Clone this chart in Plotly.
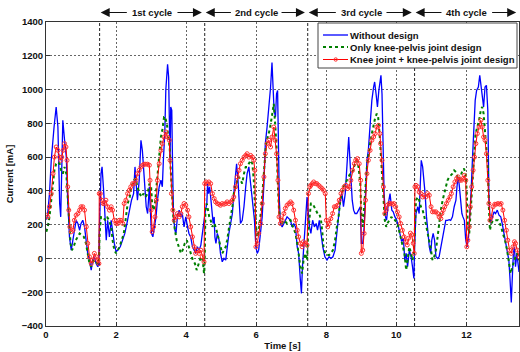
import plotly.graph_objects as go

# Motor current over four gait cycles for three exoskeleton designs
t_without = [0.0, 0.04, 0.1, 0.15, 0.23, 0.27, 0.29, 0.34, 0.39, 0.42, 0.45, 0.48, 0.53, 0.58, 0.62, 0.67,
             0.72, 0.77, 0.81, 0.86, 0.91, 0.96, 1.0, 1.05, 1.1, 1.15, 1.19, 1.24, 1.29, 1.33, 1.38, 1.43,
             1.48, 1.51, 1.52, 1.57, 1.6, 1.65, 1.69, 1.72, 1.76, 1.81, 1.86, 1.9, 1.95, 2.0, 2.05, 2.12,
             2.19, 2.25, 2.31, 2.38, 2.44, 2.5, 2.54, 2.58, 2.61, 2.66, 2.71, 2.75, 2.79, 2.83, 2.86, 2.9,
             2.95, 2.97, 3.01, 3.05, 3.09, 3.14, 3.18, 3.23, 3.28, 3.32, 3.35, 3.39, 3.42, 3.45, 3.47, 3.5,
             3.52, 3.54, 3.56, 3.59, 3.61, 3.64, 3.68, 3.71, 3.75, 3.8, 3.85, 3.89, 3.94, 3.99, 4.04, 4.08,
             4.13, 4.18, 4.23, 4.27, 4.32, 4.37, 4.42, 4.46, 4.51, 4.55, 4.59, 4.61, 4.64, 4.67, 4.7, 4.74,
             4.77, 4.8, 4.82, 4.85, 4.89, 4.94, 4.98, 5.03, 5.08, 5.13, 5.17, 5.22, 5.27, 5.32, 5.36, 5.41,
             5.44, 5.48, 5.52, 5.55, 5.6, 5.65, 5.7, 5.74, 5.79, 5.82, 5.86, 5.89, 5.91, 5.95, 5.99, 6.03,
             6.07, 6.12, 6.17, 6.22, 6.26, 6.31, 6.36, 6.41, 6.45, 6.48, 6.51, 6.55, 6.58, 6.61, 6.63, 6.66,
             6.69, 6.74, 6.79, 6.83, 6.88, 6.98, 7.02, 7.07, 7.12, 7.17, 7.21, 7.26, 7.29, 7.32, 7.35, 7.38,
             7.41, 7.45, 7.48, 7.52, 7.56, 7.61, 7.66, 7.71, 7.75, 7.8, 7.85, 7.9, 7.96, 8.02, 8.08, 8.13,
             8.19, 8.25, 8.3, 8.35, 8.4, 8.45, 8.49, 8.54, 8.59, 8.62, 8.64, 8.67, 8.7, 8.74, 8.78, 8.82,
             8.87, 8.92, 8.97, 9.0, 9.04, 9.08, 9.12, 9.16, 9.2, 9.25, 9.3, 9.35, 9.38, 9.42, 9.46, 9.5,
             9.54, 9.56, 9.59, 9.62, 9.65, 9.69, 9.72, 9.77, 9.82, 9.87, 9.91, 9.96, 10.01, 10.06, 10.1, 10.15,
             10.2, 10.24, 10.28, 10.32, 10.37, 10.42, 10.46, 10.5, 10.52, 10.56, 10.61, 10.65, 10.68, 10.71, 10.75, 10.79,
             10.82, 10.86, 10.9, 10.94, 10.98, 11.01, 11.05, 11.09, 11.13, 11.18, 11.22, 11.27, 11.32, 11.36, 11.41, 11.46,
             11.51, 11.55, 11.6, 11.65, 11.7, 11.73, 11.76, 11.79, 11.83, 11.87, 11.9, 11.94, 11.98, 12.02, 12.06, 12.09,
             12.13, 12.17, 12.21, 12.25, 12.29, 12.34, 12.38, 12.42, 12.45, 12.49, 12.53, 12.57, 12.61, 12.64, 12.67, 12.7,
             12.74, 12.79, 12.83, 12.88, 12.93, 12.98, 13.02, 13.07, 13.12, 13.17, 13.21, 13.24, 13.28, 13.31, 13.34, 13.37,
             13.4, 13.44, 13.48, 13.5]
i_without = [230, 246, 384, 581, 778, 890, 897, 778, 325, 246, 581, 818, 700, 600, 345, 128,
             49, 108, 167, 226, 207, 167, 207, 226, 187, 108, 30, -10, -69, -10, 10, -30,
             -49, -30, 148, 502, 542, 384, 187, 108, 226, 128, 226, 148, 89, 40, 49, 69,
             108, 148, 207, 286, 345, 384, 542, 424, 345, 463, 700, 640, 522, 424, 306, 266,
             424, 325, 148, 128, 187, 246, 345, 424, 463, 424, 581, 739, 1000, 1100, 1150, 1074,
             778, 581, 897, 877, 581, 246, 167, 148, 246, 286, 246, 266, 187, 246, 187, 148,
             128, 69, 49, 30, 69, 49, 79, 148, 207, 286, 325, 443, 384, 424, 364, 246,
             207, 246, 128, 89, 148, 108, 30, -20, 0, -10, 69, 148, 207, 266, 384, 502,
             561, 463, 306, 207, 226, 306, 424, 502, 542, 483, 424, 384, 306, 226, 69, 30,
             49, 148, 246, 443, 680, 778, 877, 1015, 1160, 1054, 877, 838, 975, 995, 581, 345,
             207, 187, 207, 226, 246, 226, 187, 207, 187, 69, 30, -128, -207, -49, 49, 148,
             246, 364, 286, 187, 148, 226, 187, 207, 167, 226, 148, 69, 10, -10, 10, 0,
             10, 49, 148, 246, 345, 384, 306, 384, 522, 620, 719, 600, 483, 345, 286, 266,
             266, 286, 306, 89, 89, 187, 384, 581, 640, 778, 936, 1015, 1045, 975, 897, 995,
             1074, 1084, 975, 620, 384, 246, 226, 325, 384, 286, 276, 246, 226, 187, 150, 100,
             120, -10, 30, -49, 49, 10, -49, -118, 69, 266, 306, 266, 424, 581, 542, 463,
             384, 246, 128, 69, 30, 108, 148, 108, 10, 0, 10, 69, 128, 187, 226, 226,
             230, 226, 246, 306, 345, 424, 483, 443, 345, 266, 246, 226, 108, 69, 128, 226,
             384, 581, 778, 936, 995, 1015, 1084, 1015, 936, 897, 1015, 1025, 877, 384, 246, 207,
             246, 276, 266, 286, 256, 246, 207, 148, 108, 49, -10, -108, -260, -108, 30, 69,
             -49, 30, -49, -80]

t_knee_pelvis = [0.01, 0.05, 0.1, 0.15, 0.2, 0.24, 0.29, 0.34, 0.39, 0.43, 0.48, 0.53, 0.58, 0.62, 0.66, 0.7,
                 0.74, 0.79, 0.85, 0.91, 0.96, 1.02, 1.08, 1.14, 1.19, 1.24, 1.29, 1.34, 1.4, 1.46, 1.51, 1.53,
                 1.57, 1.63, 1.69, 1.74, 1.8, 1.86, 1.9, 1.95, 2.0, 2.05, 2.1, 2.16, 2.22, 2.27, 2.33, 2.39,
                 2.44, 2.5, 2.56, 2.61, 2.67, 2.73, 2.78, 2.84, 2.9, 2.95, 3.0, 3.03, 3.07, 3.11, 3.15, 3.18,
                 3.23, 3.28, 3.32, 3.37, 3.4, 3.45, 3.49, 3.53, 3.56, 3.6, 3.64, 3.68, 3.73, 3.79, 3.85, 3.9,
                 3.96, 4.02, 4.07, 4.13, 4.19, 4.25, 4.3, 4.36, 4.42, 4.47, 4.51, 4.53, 4.55, 4.59, 4.62, 4.66,
                 4.7, 4.75, 4.8, 4.84, 4.89, 4.94, 4.98, 5.03, 5.08, 5.13, 5.17, 5.22, 5.27, 5.32, 5.36, 5.41,
                 5.46, 5.51, 5.55, 5.6, 5.65, 5.7, 5.74, 5.79, 5.84, 5.89, 5.93, 5.97, 6.01, 6.05, 6.09, 6.14,
                 6.19, 6.24, 6.28, 6.33, 6.38, 6.43, 6.46, 6.5, 6.54, 6.58, 6.62, 6.65, 6.69, 6.74, 6.79, 6.88,
                 6.98, 7.05, 7.12, 7.17, 7.21, 7.26, 7.31, 7.35, 7.4, 7.45, 7.48, 7.52, 7.56, 7.61, 7.66, 7.71,
                 7.75, 7.8, 7.85, 7.89, 7.92, 7.97, 8.02, 8.08, 8.13, 8.19, 8.25, 8.3, 8.35, 8.4, 8.45, 8.49,
                 8.54, 8.59, 8.63, 8.68, 8.73, 8.78, 8.82, 8.87, 8.92, 8.97, 9.0, 9.04, 9.08, 9.12, 9.16, 9.2,
                 9.25, 9.3, 9.35, 9.39, 9.44, 9.48, 9.52, 9.55, 9.59, 9.63, 9.67, 9.71, 9.74, 9.8, 9.86, 9.91,
                 9.97, 10.03, 10.08, 10.13, 10.18, 10.23, 10.28, 10.32, 10.37, 10.42, 10.46, 10.5, 10.53, 10.56, 10.61, 10.65,
                 10.7, 10.75, 10.8, 10.84, 10.89, 10.94, 10.99, 11.03, 11.08, 11.13, 11.18, 11.22, 11.27, 11.32, 11.36, 11.41,
                 11.46, 11.51, 11.55, 11.6, 11.65, 11.7, 11.74, 11.79, 11.84, 11.89, 11.93, 11.98, 12.01, 12.04, 12.08, 12.11,
                 12.15, 12.19, 12.23, 12.26, 12.31, 12.36, 12.41, 12.45, 12.49, 12.53, 12.57, 12.61, 12.64, 12.67, 12.71, 12.76,
                 12.81, 12.85, 12.9, 12.95, 12.99, 13.04, 13.1, 13.16, 13.21, 13.26, 13.31, 13.36, 13.4, 13.45, 13.5]
i_knee_pelvis = [158, 187, 246, 345, 443, 522, 561, 571, 561, 522, 502, 542, 502, 345, 187, 89,
                 49, 69, 108, 128, 148, 138, 128, 89, 30, -30, -49, -20, -10, -30, -30, 148,
                 246, 246, 226, 246, 226, 187, 108, 49, 30, 49, 69, 108, 148, 226, 325, 364,
                 424, 463, 473, 424, 384, 364, 384, 364, 384, 443, 424, 325, 286, 325, 424, 522,
                 620, 719, 759, 838, 838, 798, 719, 660, 522, 345, 226, 167, 108, 69, 30, 49,
                 89, 108, 69, 30, -10, -30, -69, -30, 10, -10, -89, -10, 286, 325, 286, 246,
                 226, 187, 207, 187, 148, 108, 69, 30, 49, 69, 108, 187, 246, 306, 384, 424,
                 463, 483, 463, 443, 502, 542, 542, 561, 581, 561, 463, 286, 148, 128, 187, 286,
                 424, 581, 680, 719, 759, 818, 877, 916, 798, 660, 424, 286, 226, 207, 226, 207,
                 226, 187, 148, 89, 30, -49, -89, -10, 30, -10, 148, 266, 325, 325, 306, 286,
                 266, 266, 226, 148, 69, 30, 20, 20, 30, 49, 108, 187, 246, 345, 384, 424,
                 443, 463, 483, 502, 502, 542, 561, 581, 542, 443, 266, 187, 286, 424, 542, 620,
                 680, 739, 798, 828, 857, 838, 739, 640, 522, 364, 226, 187, 207, 226, 246, 226,
                 226, 207, 160, 128, 69, 30, -69, -10, 69, 30, -10, 30, 246, 345, 364, 345,
                 306, 286, 246, 207, 167, 108, 49, -10, 10, 49, 148, 226, 286, 345, 384, 424,
                 463, 483, 492, 502, 522, 512, 483, 463, 492, 522, 532, 502, 384, 187, 148, 246,
                 384, 522, 660, 739, 778, 818, 877, 897, 857, 739, 660, 542, 306, 167, 207, 226,
                 226, 226, 226, 207, 187, 148, 108, 49, -30, -89, -49, -10, 10, 30, -10]

t_knee_full = [0.01, 0.05, 0.1, 0.15, 0.2, 0.24, 0.29, 0.34, 0.39, 0.42, 0.45, 0.49, 0.53, 0.57, 0.6, 0.62,
               0.65, 0.68, 0.72, 0.77, 0.81, 0.86, 0.91, 0.96, 1.0, 1.05, 1.1, 1.15, 1.19, 1.24, 1.29, 1.33,
               1.38, 1.43, 1.48, 1.51, 1.52, 1.55, 1.59, 1.63, 1.67, 1.71, 1.76, 1.81, 1.86, 1.9, 1.95, 2.0,
               2.05, 2.09, 2.14, 2.19, 2.23, 2.28, 2.33, 2.38, 2.42, 2.47, 2.52, 2.57, 2.61, 2.66, 2.71, 2.76,
               2.8, 2.85, 2.9, 2.95, 2.97, 3.0, 3.03, 3.07, 3.11, 3.15, 3.18, 3.23, 3.28, 3.32, 3.37, 3.42,
               3.47, 3.52, 3.54, 3.58, 3.62, 3.66, 3.71, 3.75, 3.8, 3.85, 3.89, 3.94, 3.99, 4.04, 4.08, 4.13,
               4.18, 4.23, 4.27, 4.32, 4.37, 4.42, 4.46, 4.51, 4.53, 4.57, 4.61, 4.65, 4.7, 4.75, 4.8, 4.84,
               4.89, 4.94, 4.98, 5.03, 5.08, 5.13, 5.17, 5.22, 5.27, 5.32, 5.36, 5.41, 5.46, 5.51, 5.55, 5.6,
               5.65, 5.7, 5.74, 5.79, 5.84, 5.89, 5.93, 5.96, 5.99, 6.03, 6.07, 6.12, 6.17, 6.22, 6.26, 6.31,
               6.36, 6.41, 6.45, 6.5, 6.54, 6.58, 6.62, 6.65, 6.69, 6.74, 6.79, 6.83, 6.88, 6.93, 6.98, 7.02,
               7.07, 7.12, 7.17, 7.21, 7.26, 7.31, 7.35, 7.4, 7.45, 7.49, 7.53, 7.56, 7.6, 7.64, 7.69, 7.73,
               7.78, 7.83, 7.88, 7.92, 7.97, 8.0, 8.04, 8.08, 8.13, 8.18, 8.23, 8.27, 8.32, 8.37, 8.42, 8.46,
               8.51, 8.56, 8.61, 8.65, 8.7, 8.75, 8.8, 8.84, 8.89, 8.94, 8.98, 9.0, 9.04, 9.08, 9.12, 9.16,
               9.2, 9.25, 9.3, 9.35, 9.39, 9.44, 9.49, 9.53, 9.55, 9.59, 9.63, 9.67, 9.71, 9.74, 9.79, 9.84,
               9.89, 9.93, 9.98, 10.03, 10.08, 10.12, 10.17, 10.22, 10.27, 10.31, 10.35, 10.4, 10.44, 10.48, 10.51, 10.53,
               10.56, 10.61, 10.65, 10.7, 10.75, 10.8, 10.84, 10.89, 10.94, 10.99, 11.03, 11.08, 11.13, 11.18, 11.22, 11.27,
               11.3, 11.34, 11.38, 11.43, 11.48, 11.53, 11.57, 11.62, 11.67, 11.72, 11.76, 11.81, 11.86, 11.9, 11.94, 11.98,
               12.01, 12.04, 12.08, 12.11, 12.15, 12.19, 12.23, 12.27, 12.31, 12.36, 12.41, 12.45, 12.49, 12.53, 12.57, 12.61,
               12.64, 12.67, 12.71, 12.76, 12.81, 12.85, 12.9, 12.95, 12.99, 13.04, 13.09, 13.14, 13.18, 13.23, 13.28, 13.33,
               13.37, 13.4, 13.45, 13.5]
i_knee_full = [256, 246, 306, 384, 502, 600, 660, 640, 600, 581, 600, 640, 680, 660, 581, 424,
               286, 187, 158, 167, 226, 256, 266, 286, 306, 306, 286, 187, 89, 10, -30, -10,
               30, 10, -10, -30, 384, 384, 345, 325, 325, 345, 306, 286, 306, 286, 226, 207,
               207, 226, 226, 207, 325, 345, 384, 404, 424, 443, 443, 463, 502, 522, 542, 552,
               558, 558, 558, 552, 463, 286, 158, 187, 246, 345, 463, 561, 640, 680, 719, 749,
               719, 700, 581, 384, 286, 226, 246, 266, 246, 266, 306, 325, 315, 286, 246, 187,
               128, 69, 30, 49, 30, 49, 10, -20, 443, 453, 443, 453, 443, 384, 355, 335,
               325, 321, 315, 325, 321, 325, 335, 325, 335, 345, 364, 424, 483, 522, 561, 581,
               600, 610, 620, 600, 610, 600, 581, 522, 69, 89, 148, 207, 325, 483, 620, 680,
               700, 660, 719, 778, 700, 620, 463, 246, 207, 226, 266, 296, 315, 325, 335, 325,
               286, 226, 167, 128, 89, 69, 99, 89, 79, 384, 424, 433, 443, 453, 443, 443,
               433, 424, 414, 404, 384, 226, 187, 207, 236, 266, 306, 306, 315, 345, 384, 404,
               424, 433, 414, 424, 463, 522, 561, 581, 591, 561, 463, 30, 49, 148, 345, 502,
               581, 640, 700, 719, 739, 778, 788, 739, 680, 581, 424, 266, 286, 315, 325, 325,
               321, 325, 306, 276, 246, 207, 167, 128, 99, 80, 120, 150, 140, 90, 30, 424,
               433, 424, 394, 384, 364, 374, 364, 384, 374, 306, 276, 276, 276, 266, 246, 236,
               266, 286, 306, 325, 345, 364, 384, 424, 453, 473, 483, 463, 463, 473, 492, 463,
               69, 108, 187, 306, 424, 522, 600, 680, 739, 778, 818, 778, 719, 700, 620, 463,
               325, 226, 246, 306, 321, 321, 325, 321, 325, 286, 226, 167, 108, 49, 30, 69,
               99, 89, 49, 10]

# Start times of the gait cycles (last entry closes the 4th cycle)
cycle_bounds = [1.53, 4.53, 7.47, 10.52, 13.5]
cycle_labels = ["1st cycle", "2nd cycle", "3rd cycle", "4th cycle"]

series_names = ["Without design", "Only knee-pelvis joint design",
                "Knee joint + knee-pelvis joint design"]

FONT = "Liberation Sans, Arial, sans-serif"
TEXT = "#111111"
W, H = 520, 352
M = dict(l=46, r=1, t=22, b=26)
X_RANGE = [0, 13.5]
PLOT_W = W - M["l"] - M["r"]
PLOT_H = H - M["t"] - M["b"]


def px_to_paper(px, py):
    """Convert page pixel coordinates to paper coordinates."""
    return (px - M["l"]) / PLOT_W, (H - M["b"] - py) / PLOT_H


blue = dict(color="#0000ff", width=1.3)
green = dict(color="#007f00", width=2, dash="dot")
red = dict(color="#ff0000", width=1)
red_marker = dict(symbol="circle-open", size=4, color="#ff3030", line=dict(width=1))

fig = go.Figure()
fig.add_trace(go.Scatter(x=t_without, y=i_without, mode="lines",
                         name=series_names[0], line=blue))
fig.add_trace(go.Scatter(x=t_knee_pelvis, y=i_knee_pelvis, mode="lines",
                         name=series_names[1], line=green))
fig.add_trace(go.Scatter(x=t_knee_full, y=i_knee_full, mode="lines+markers",
                         name=series_names[2], line=red, marker=red_marker))

# Dashed separators between gait cycles
for b in cycle_bounds[:-1]:
    fig.add_shape(type="line", x0=b, x1=b, xref="x", yref="paper", y0=0, y1=1,
                  line=dict(color="#222222", width=1, dash="3px,2px"), layer="below")

# "<-- Nth cycle -->" labels above the plot
px_per_s = PLOT_W / (X_RANGE[1] - X_RANGE[0])
_, arrow_y = px_to_paper(0, 12.5)
half_gap = 0.68
for k, label in enumerate(cycle_labels):
    left, right = cycle_bounds[k], cycle_bounds[k + 1]
    mid = (left + right) / 2
    fig.add_annotation(x=mid, y=arrow_y, xref="x", yref="paper", text=label, showarrow=False,
                       xanchor="center", yanchor="middle",
                       font=dict(family=FONT, size=9.5, color=TEXT, weight="bold"))
    for head, tail in ((left + 0.03, mid - half_gap), (right - 0.08, mid + half_gap)):
        fig.add_annotation(x=head, y=arrow_y, xref="x", yref="paper",
                           ax=(tail - head) * px_per_s, ay=0, axref="pixel", ayref="pixel",
                           text="", showarrow=True, arrowhead=2, arrowsize=1.8,
                           arrowwidth=1, arrowcolor=TEXT)

# Compact legend box in the upper-right corner
bx0, by0 = px_to_paper(318, 68)
bx1, by1 = px_to_paper(517, 23)
fig.add_shape(type="rect", xref="paper", yref="paper", x0=bx0, x1=bx1, y0=by0, y1=by1,
              fillcolor="white", line=dict(color="#444444", width=1), layer="above")
row_py = [35, 47, 59.5]
styles = [blue, green, red]
for name, style, py in zip(series_names, styles, row_py):
    lx0, ly = px_to_paper(323, py)
    lx1, _ = px_to_paper(348, py)
    fig.add_shape(type="line", xref="paper", yref="paper", x0=lx0, x1=lx1, y0=ly, y1=ly,
                  line=style, layer="above")
    tx, _ = px_to_paper(348, py)
    fig.add_annotation(x=tx, y=ly, xref="paper", yref="paper", text=name, showarrow=False,
                       xanchor="left", yanchor="middle",
                       font=dict(family=FONT, size=9.5, color=TEXT, weight="bold"))
# marker glyph on the red legend sample
cx0, cy0 = px_to_paper(334, row_py[2] + 1.7)
cx1, cy1 = px_to_paper(337.4, row_py[2] - 1.7)
fig.add_shape(type="circle", xref="paper", yref="paper", x0=cx0, x1=cx1, y0=cy0, y1=cy1,
              line=dict(color="#ff3030", width=1), layer="above")

axis_common = dict(
    showline=True, linecolor="#333333", linewidth=1, mirror=True,
    showgrid=True, gridcolor="#666666", gridwidth=1, griddash="2px,2px",
    ticks="inside", ticklen=4, tickcolor="#333333",
    zeroline=False,
    tickfont=dict(family=FONT, size=9.5, color=TEXT, weight="bold"),
)

fig.update_xaxes(range=X_RANGE, tick0=0, dtick=2,
                 title=dict(text="Time [s]", standoff=2,
                            font=dict(family=FONT, size=9.5, color=TEXT, weight="bold")),
                 **axis_common)
fig.update_yaxes(range=[-400, 1400], tick0=-400, dtick=200,
                 title=dict(text="Current [mA]", standoff=6,
                            font=dict(family=FONT, size=9.5, color=TEXT, weight="bold")),
                 **axis_common)

fig.update_layout(
    width=W, height=H,
    margin=M,
    paper_bgcolor="white", plot_bgcolor="white",
    font=dict(family=FONT, size=9.5, color=TEXT),
    showlegend=False,
)

fig.write_html("out.html")
